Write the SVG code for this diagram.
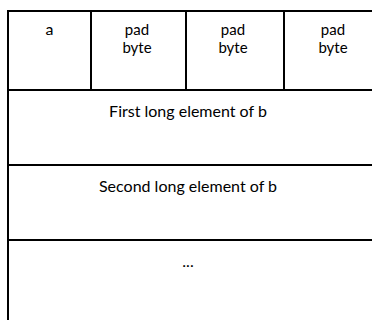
<svg xmlns="http://www.w3.org/2000/svg" width="372" height="320" viewBox="0 0 372 320">
<style>
.ln{stroke:#000;stroke-width:2;fill:none}
.t{font-family:Lato,"Open Sans","DejaVu Sans",sans-serif;font-size:16px;fill:#000;text-anchor:middle}
.h{font-size:15px}
</style>
<rect width="372" height="320" fill="#fff"/>
<g id="connectors">
<path class="ln" d="M8,320 V11 H372"/>
<path class="ln" d="M8,90 H372 M8,165 H372 M8,240 H372"/>
<path class="ln" d="M91,11 V90 M186,11 V90 M284,11 V90"/>
</g>
<g id="a"><text class="t" x="49.5" y="35">a</text></g>
<g id="pad1"><text class="t h" x="137" y="35">pad</text><text class="t h" x="137" y="53">byte</text></g>
<g id="pad2"><text class="t h" x="233" y="35">pad</text><text class="t h" x="233" y="53">byte</text></g>
<g id="pad3"><text class="t h" x="333" y="35">pad</text><text class="t h" x="333" y="53">byte</text></g>
<g id="b1"><text class="t" x="188" y="117">First long element of b</text></g>
<g id="b2"><text class="t" x="188" y="192">Second long element of b</text></g>
<g id="more"><text class="t" x="188" y="267">...</text></g>
</svg>
